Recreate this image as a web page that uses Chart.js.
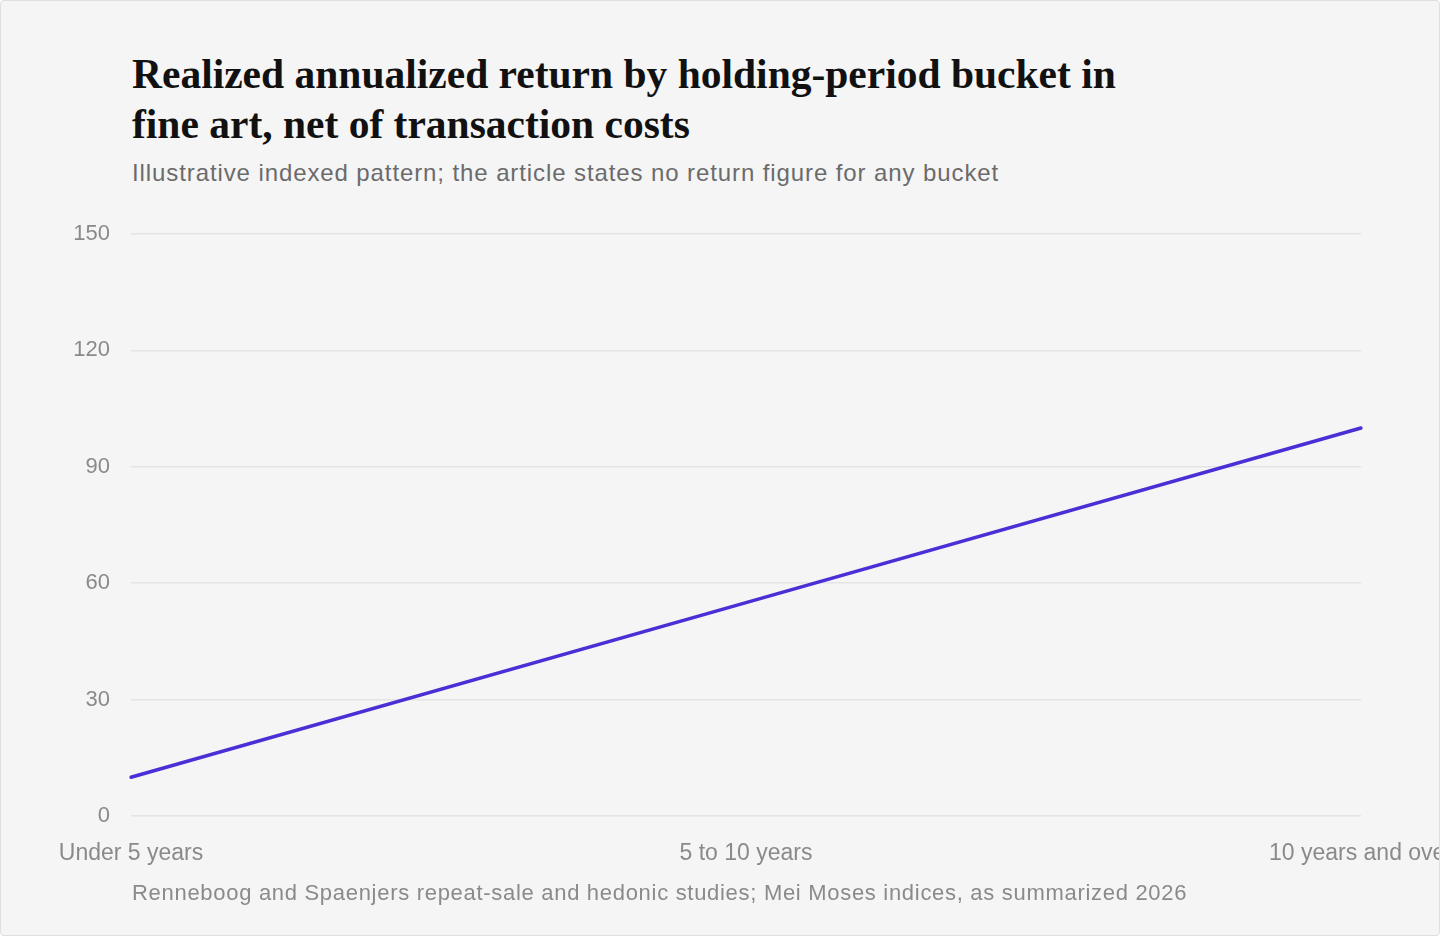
<!DOCTYPE html>
<html>
<head>
<meta charset="utf-8">
<script src="https://cdn.jsdelivr.net/npm/chart.js@4.4.1/dist/chart.umd.min.js"></script>
<style>
  html, body { margin: 0; padding: 0; background: #ffffff; }
  #card {
    position: relative; width: 1440px; height: 936px; box-sizing: border-box;
    background: #f5f5f5; border: 1px solid #e0e0e0; border-radius: 4px; overflow: hidden;
  }
  #title {
    position: absolute; left: 131px; top: 48px; width: 1200px;
    font-family: "Liberation Serif", serif; font-weight: 700; font-size: 41.5px;
    line-height: 50px; color: #111111; letter-spacing: 0px;
  }
  #subtitle {
    position: absolute; left: 131px; top: 158px; white-space: nowrap;
    font-family: "Liberation Sans", Arial, sans-serif; font-size: 24px; color: #6b6b6b;
    letter-spacing: 0.9px;
  }
  #source {
    position: absolute; left: 131px; top: 879px; white-space: nowrap;
    font-family: "Liberation Sans", Arial, sans-serif; font-size: 22px; color: #8a8a8a;
    letter-spacing: 0.7px;
  }
  #wrap { position: absolute; left: 0; top: 200px; width: 1438px; height: 680px; }
</style>
</head>
<body>
<div id="card">
  <div id="title">Realized annualized return by holding-period bucket in<br>fine art, net of transaction costs</div>
  <div id="subtitle">Illustrative indexed pattern; the article states no return figure for any bucket</div>
  <div id="wrap"><canvas id="c"></canvas></div>
  <div id="source">Renneboog and Spaenjers repeat-sale and hedonic studies; Mei Moses indices, as summarized 2026</div>
</div>
<script>
const categories = ["Under 5 years", "5 to 10 years", "10 years and over"];
const returnIndex = [10, 55, 100];
const yTicks = [0, 30, 60, 90, 120, 150];

const ctx = document.getElementById('c');
new Chart(ctx, {
  type: 'line',
  data: {
    labels: categories,
    datasets: [{
      data: returnIndex,
      borderColor: '#4a2fd6',
      borderWidth: 3.5,
      pointRadius: 0,
      pointHoverRadius: 0,
      tension: 0,
      borderCapStyle: 'round',
      fill: false
    }]
  },
  options: {
    responsive: true,
    maintainAspectRatio: false,
    animation: false,
    layout: { padding: { top: 33, right: 78, left: 0, bottom: 0 } },
    plugins: { legend: { display: false }, tooltip: { enabled: false }, title: { display: false } },
    scales: {
      x: {
        offset: false,
        grid: { display: false, drawTicks: false },
        border: { display: false },
        ticks: {
          color: '#8a8a8a', padding: 24, maxRotation: 0, autoSkip: false,
          font: { family: '"Liberation Sans", Arial, sans-serif', size: 23 }
        },
        afterFit: (s) => { s.paddingLeft = 0; s.paddingRight = 0; s.height = 65; }
      },
      y: {
        min: 0, max: 150,
        afterBuildTicks: (s) => { s.ticks = yTicks.map(v => ({ value: v })); },
        grid: { color: '#e4e4e4', lineWidth: 1.5, drawTicks: false },
        border: { display: false },
        ticks: {
          color: '#8a8a8a', padding: 21,
          font: { family: '"Liberation Sans", Arial, sans-serif', size: 22 }
        },
        afterFit: (s) => { s.width = 130; s.paddingTop = 0; s.paddingBottom = 0; }
      }
    }
  }
});
</script>
</body>
</html>
